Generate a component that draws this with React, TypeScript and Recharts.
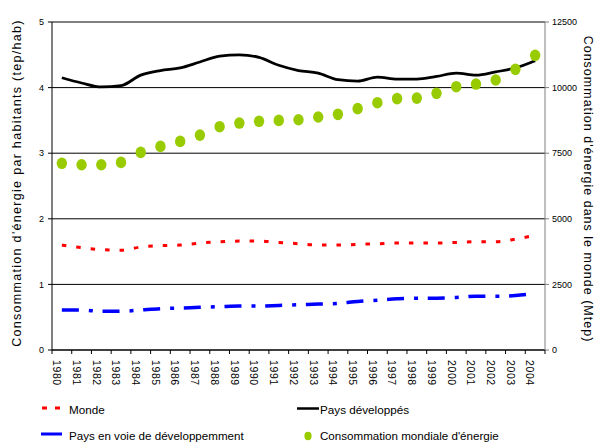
import React from 'react';
import { ComposedChart, Line, XAxis, YAxis, CartesianGrid, Label } from 'recharts';

const years = ['1980','1981','1982','1983','1984','1985','1986','1987','1988','1989','1990','1991','1992','1993','1994','1995','1996','1997','1998','1999','2000','2001','2002','2003','2004'];
const developpes = [4.15,4.07,4.01,4.03,4.19,4.26,4.30,4.39,4.48,4.50,4.46,4.34,4.26,4.22,4.12,4.10,4.16,4.13,4.13,4.17,4.22,4.19,4.24,4.30,4.41];
const monde = [1.60,1.56,1.53,1.52,1.57,1.59,1.60,1.63,1.65,1.66,1.66,1.64,1.62,1.60,1.60,1.61,1.62,1.63,1.63,1.63,1.64,1.65,1.65,1.69,1.75];
const pvd = [0.61,0.61,0.59,0.59,0.61,0.63,0.64,0.65,0.66,0.67,0.67,0.68,0.69,0.70,0.71,0.74,0.76,0.78,0.79,0.79,0.80,0.82,0.82,0.83,0.86];
const mondial = [7115,7060,7060,7150,7530,7760,7950,8190,8510,8650,8715,8750,8775,8880,8980,9200,9425,9580,9600,9780,10035,10135,10290,10695,11230];
const leftTicks = [0,1,2,3,4,5];
const rightTicks = [0,2500,5000,7500,10000,12500];

const data = years.map((y, i) => ({
  year: y,
  monde: monde[i],
  developpes: developpes[i],
  pvd: pvd[i],
  mondial: mondial[i],
}));

const W = 596;
const H = 444;
const LEFT_W = 52;
const RIGHT_W = 51;
const FONT = '"Liberation Sans", Arial, Helvetica, sans-serif';
const GREEN = '#99CC00';
const HALF_BAND = (W - LEFT_W - RIGHT_W) / years.length / 2;

const XTick = (props: any) => {
  const { x, y, payload } = props;
  const idx = props.index ?? payload.index ?? 0;
  return (
    <g>
      <line x1={x - HALF_BAND} x2={x - HALF_BAND} y1={y} y2={y + 4} stroke="#000" />
      {idx === years.length - 1 && <line x1={x + HALF_BAND} x2={x + HALF_BAND} y1={y} y2={y + 4} stroke="#000" />}
      <text
        transform={`translate(${x},${y}) rotate(90)`}
        x={10}
        y={8.7}
        fontSize={10.5}
        letterSpacing={0.6}
        fontFamily={FONT}
        fill="#000"
        textAnchor="start"
      >
        {payload.value}
      </text>
    </g>
  );
};

const GreenDot = (props: any) => {
  const { cx, cy } = props;
  if (cx == null || cy == null) return null;
  return <ellipse cx={cx} cy={cy} rx={5.2} ry={5.8} fill={GREEN} stroke="none" />;
};

const LegendOverlay = () => (
  <svg width={W} height={H} style={{ position: 'absolute', left: 0, top: 0, pointerEvents: 'none' }}>
    <line x1={42} x2={61} y1={408} y2={408} stroke="#FF0000" strokeWidth={3} strokeDasharray="5 8" />
    <text x={69} y={414} fontSize={11.7} fontFamily={FONT} fill="#000">Monde</text>
    <line x1={41} x2={62} y1={434} y2={434} stroke="#0000FF" strokeWidth={3} />
    <text x={69} y={440} fontSize={11.6} fontFamily={FONT} fill="#000">Pays en voie de développemment</text>
    <line x1={297} x2={319} y1={408.5} y2={408.5} stroke="#000" strokeWidth={2.5} />
    <text x={320} y={414} fontSize={11.7} fontFamily={FONT} fill="#000">Pays développés</text>
    <ellipse cx={308} cy={436} rx={3.6} ry={4.2} fill={GREEN} />
    <text x={320} y={440} fontSize={11.6} fontFamily={FONT} fill="#000">Consommation mondiale d'énergie</text>
  </svg>
);

export default function App() {
  return (
    <div style={{ position: 'absolute', left: 0, top: 0, width: W, height: H, background: '#fff' }}>
      <ComposedChart width={W} height={H} data={data} margin={{ top: 22, right: 0, bottom: 50, left: 0 }}>
        <CartesianGrid yAxisId="left" vertical={false} stroke="#000" strokeWidth={1} />
        <XAxis
          dataKey="year"
          scale="band"
          interval={0}
          height={44}
          tickSize={0}
          tickMargin={0}
          tickLine={false}
          axisLine={{ stroke: '#000' }}
          tick={<XTick />}
        />
        <YAxis
          yAxisId="left"
          width={LEFT_W}
          domain={[0, 5]}
          ticks={leftTicks}
          tickSize={4}
          tickMargin={4}
          axisLine={{ stroke: '#000' }}
          tickLine={{ stroke: '#000' }}
          tick={{ fontSize: 9, fill: '#000', fontFamily: FONT }}
        >
          <Label
            value="Consommation d'énergie par habitants (tep/hab)"
            angle={-90}
            position="center"
            dx={-9}
            dy={-3}
            style={{ fontSize: 12.5, letterSpacing: 1.3, fontFamily: FONT, fill: '#000' }}
          />
        </YAxis>
        <YAxis
          yAxisId="right"
          orientation="right"
          width={RIGHT_W}
          domain={[0, 12500]}
          ticks={rightTicks}
          tickSize={4}
          tickMargin={3}
          axisLine={{ stroke: '#808080' }}
          tickLine={{ stroke: '#808080' }}
          tick={{ fontSize: 9, fill: '#000', fontFamily: FONT }}
        >
          <Label
            value="Consommation d'énergie dans le monde (Mtep)"
            angle={90}
            position="center"
            dx={18}
            dy={3}
            style={{ fontSize: 12.5, letterSpacing: 1.0, fontFamily: FONT, fill: '#000' }}
          />
        </YAxis>
        <Line
          yAxisId="right"
          dataKey="mondial"
          name="Consommation mondiale d'énergie"
          stroke="none"
          dot={<GreenDot />}
          activeDot={false}
          isAnimationActive={false}
        />
        <Line
          yAxisId="left"
          type="monotone"
          dataKey="monde"
          name="Monde"
          stroke="#FF0000"
          strokeWidth={3}
          strokeDasharray="4.5 10"
          dot={false}
          isAnimationActive={false}
        />
        <Line
          yAxisId="left"
          type="monotone"
          dataKey="pvd"
          name="Pays en voie de développemment"
          stroke="#0000FF"
          strokeWidth={3.5}
          strokeDasharray="17 10 4 9.7"
          dot={false}
          isAnimationActive={false}
        />
        <Line
          yAxisId="left"
          type="monotone"
          dataKey="developpes"
          name="Pays développés"
          stroke="#000"
          strokeWidth={2.75}
          dot={false}
          isAnimationActive={false}
        />
      </ComposedChart>
      <LegendOverlay />
    </div>
  );
}
